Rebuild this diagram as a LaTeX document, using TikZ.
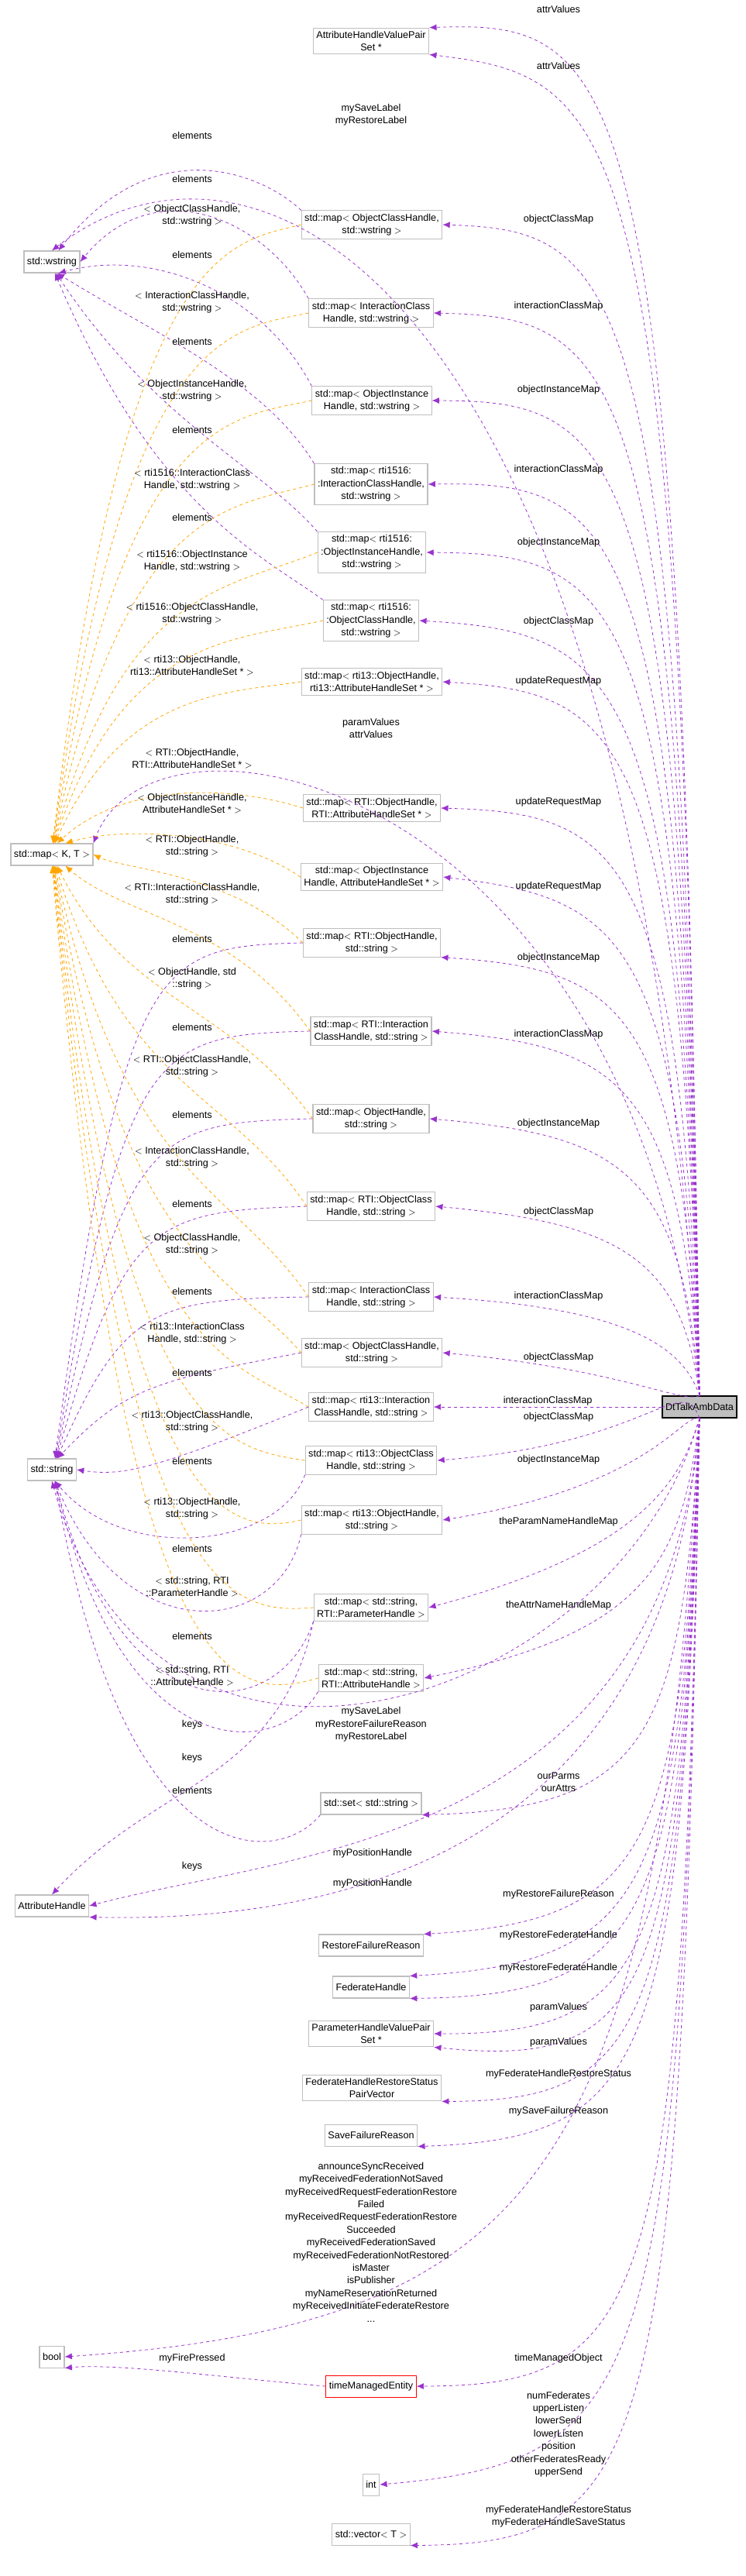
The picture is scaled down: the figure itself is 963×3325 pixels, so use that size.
\documentclass[tikz,border=0pt]{standalone}
\usepackage{fontspec}
\setmainfont{Liberation Sans}
\usetikzlibrary{arrows.meta}
\definecolor{mem}{HTML}{9A32CD}
\definecolor{tpl}{HTML}{FFA500}
\definecolor{frame}{HTML}{BFBFBF}
\tikzset{
  box/.style={draw=frame, line width=0.8pt, align=center, inner sep=3pt, minimum height=21pt, font=\fontsize{9.5}{12.3}\selectfont},
  lbl/.style={align=center, inner sep=0pt, font=\fontsize{9.5}{12.3}\selectfont},
  memb/.style={draw=mem, dashed, line width=0.6pt, -{Latex[length=7pt,width=6pt]}},
  tmpl/.style={draw=tpl, dashed, line width=0.6pt, -{Latex[length=7pt,width=6pt]}}
}
\begin{document}
\begin{tikzpicture}[x=0.75pt, y=-0.75pt]
\useasboundingbox (0,0) rectangle (963,3325);
% left column
\node[box] (wstr) at (67,338) {std::wstring};
\node[box] (mapkt) at (67,1103) {std::map$<$ K, T $>$};
\node[box] (str) at (67,1897) {std::string};
\node[box] (ah) at (67,2460) {AttributeHandle};
\node[box] (bool) at (67,3042) {bool};
% middle column
\node[box] (ahvp) at (479,53) {AttributeHandleValuePair\\Set *};
\node[box] (ochw) at (480,290) {std::map$<$ ObjectClassHandle,\\std::wstring $>$};
\node[box] (ichw) at (479,404) {std::map$<$ InteractionClass\\Handle, std::wstring $>$};
\node[box] (oihw) at (480,517) {std::map$<$ ObjectInstance\\Handle, std::wstring $>$};
\node[box] (rIch) at (479,625) {std::map$<$ rti1516:\\:InteractionClassHandle,\\std::wstring $>$};
\node[box] (rOih) at (480,713) {std::map$<$ rti1516:\\:ObjectInstanceHandle,\\std::wstring $>$};
\node[box] (rOch) at (479,801) {std::map$<$ rti1516:\\:ObjectClassHandle,\\std::wstring $>$};
\node[box] (tOhas) at (480,880) {std::map$<$ rti13::ObjectHandle,\\rti13::AttributeHandleSet * $>$};
\node[box] (Ohas) at (480,1043) {std::map$<$ RTI::ObjectHandle,\\RTI::AttributeHandleSet * $>$};
\node[box] (oihas) at (480,1132) {std::map$<$ ObjectInstance\\Handle, AttributeHandleSet * $>$};
\node[box] (Ohstr) at (480,1217) {std::map$<$ RTI::ObjectHandle,\\std::string $>$};
\node[box] (Ichstr) at (479,1331) {std::map$<$ RTI::Interaction\\ClassHandle, std::string $>$};
\node[box] (ohstr) at (479,1444) {std::map$<$ ObjectHandle,\\std::string $>$};
\node[box] (Ochstr) at (479,1557) {std::map$<$ RTI::ObjectClass\\Handle, std::string $>$};
\node[box] (ichstr) at (479,1674) {std::map$<$ InteractionClass\\Handle, std::string $>$};
\node[box] (ochstr) at (480,1746) {std::map$<$ ObjectClassHandle,\\std::string $>$};
\node[box] (tIch) at (479,1816) {std::map$<$ rti13::Interaction\\ClassHandle, std::string $>$};
\node[box] (tOch) at (479,1885) {std::map$<$ rti13::ObjectClass\\Handle, std::string $>$};
\node[box] (tOh) at (480,1962) {std::map$<$ rti13::ObjectHandle,\\std::string $>$};
\node[box] (sPar) at (479,2075) {std::map$<$ std::string,\\RTI::ParameterHandle $>$};
\node[box] (sAtt) at (479,2166) {std::map$<$ std::string,\\RTI::AttributeHandle $>$};
\node[box] (sset) at (479,2328) {std::set$<$ std::string $>$};
\node[box] (rfr) at (479,2511) {RestoreFailureReason};
\node[box] (fh) at (479,2565) {FederateHandle};
\node[box] (phvp) at (479,2625) {ParameterHandleValuePair\\Set *};
\node[box] (fhrs) at (480,2695) {FederateHandleRestoreStatus\\PairVector};
\node[box] (sfr) at (479,2756) {SaveFailureReason};
\node[box, draw=red] (tme) at (479,3080) {timeManagedEntity};
\node[box] (int) at (479,3207) {int};
\node[box] (vec) at (479,3271) {std::vector$<$ T $>$};
% main class
\node[box, draw=black, fill=frame] (dt) at (903,1816) {DtTalkAmbData};

% members of DtTalkAmbData, upwards
\foreach \t/\a/\l/\ly in {
  ahvp/north east/attrValues/12, ahvp/south east/attrValues/85,
  ochw/east/objectClassMap/283, ichw/east/interactionClassMap/395,
  oihw/east/objectInstanceMap/503, rIch/east/interactionClassMap/606,
  rOih/east/objectInstanceMap/700, rOch/east/objectClassMap/802,
  tOhas/east/updateRequestMap/879, Ohas/east/updateRequestMap/1035,
  oihas/east/updateRequestMap/1144, Ohstr/south east/objectInstanceMap/1236,
  Ichstr/east/interactionClassMap/1335, ohstr/east/objectInstanceMap/1450,
  Ochstr/east/objectClassMap/1564, ichstr/east/interactionClassMap/1673,
  ochstr/east/objectClassMap/1752}
{
  \draw[memb] (dt.north) .. controls (880,\ly+60) and (800,\ly+15) .. (\t.\a);
  \node[lbl] at (721,\ly) {\l};
}
\draw[memb] (dt.west) -- (tIch.east) node[lbl, midway, above=1pt] {interactionClassMap};
% members of DtTalkAmbData, downwards
\foreach \t/\a/\l/\ly in {
  tOch/east/objectClassMap/1829, tOh/east/objectInstanceMap/1884,
  sPar/east/theParamNameHandleMap/1964, sAtt/east/theAttrNameHandleMap/2072,
  sset/south east/{ourParms\\ourAttrs}/2300,
  rfr/north east/myRestoreFailureReason/2445,
  fh/north east/myRestoreFederateHandle/2498, fh/south east/myRestoreFederateHandle/2540,
  phvp/east/paramValues/2591, phvp/south east/paramValues/2636,
  fhrs/south east/myFederateHandleRestoreStatus/2677,
  sfr/south east/mySaveFailureReason/2725,
  tme/east/timeManagedObject/3044,
  int/east/{numFederates\\upperListen\\lowerSend\\lowerListen\\position\\otherFederatesReady\\upperSend}/3142,
  vec/south east/{myFederateHandleRestoreStatus\\myFederateHandleSaveStatus}/3248}
{
  \draw[memb] (dt.south) .. controls (880,\ly-60) and (840,\ly+35) .. (\t.\a);
  \node[lbl] at (721,\ly) {\l};
}
% members going to the left column
\draw[memb] (dt.north) .. controls (820,350) and (330,120) .. (wstr.north);
\node[lbl] (lsave) at (479,148) {mySaveLabel\\myRestoreLabel};
\draw[memb] (dt.north) .. controls (820,1000) and (200,880) .. (mapkt.north east);
\node[lbl] (lparam) at (479,940) {paramValues\\attrValues};
\draw[memb] (dt.south) .. controls (800,2200) and (200,2400) .. (str.south);
\node[lbl] (lrest) at (479,2226) {mySaveLabel\\myRestoreFailureReason\\myRestoreLabel};
\draw[memb] (dt.south) .. controls (860,2380) and (380,2390) .. (ah.east);
\draw[memb] (dt.south) .. controls (860,2430) and (380,2480) .. (ah.south east);
\node[lbl] (lpos1) at (481,2392) {myPositionHandle};
\node[lbl] (lpos2) at (481,2431) {myPositionHandle};
\draw[memb] (dt.south) .. controls (850,2800) and (700,3000) .. (bool.east);
\node[lbl] (lbool) at (479,2894) {announceSyncReceived\\myReceivedFederationNotSaved\\myReceivedRequestFederationRestore\\Failed\\myReceivedRequestFederationRestore\\Succeeded\\myReceivedFederationSaved\\myReceivedFederationNotRestored\\isMaster\\isPublisher\\myNameReservationReturned\\myReceivedInitiateFederateRestore\\...};
\draw[memb] (tme.west) .. controls (300,3070) and (150,3050) .. (bool.south east);
\node[lbl] (lfire) at (248,3044) {myFirePressed};

% element types
\foreach \s/\a/\ly in {ochw/60/175, ichw/0/231, oihw/-60/329, rIch/-65/441, rOih/-70/555, rOch/-75/668}
{
  \draw[memb] (\s.north west) .. controls (340,\ly+50) and (200,\ly-10) .. (wstr.\a);
  \node[lbl] at (248,\ly) {elements};
}
\foreach \s/\a/\ly in {Ohstr/75/1212, Ichstr/72/1326, ohstr/70/1439, Ochstr/68/1554, ichstr/66/1667, ochstr/64/1772, tIch/0/1886}
  \draw[memb] (\s.west) .. controls (200,\ly+10) and (160,\ly+20) .. (str.\a);
\foreach \s/\ly in {tOch/1999, tOh/2112, sPar/2226, sAtt/2269, sset/2409}
  \draw[memb] (\s.south west) .. controls (360,\ly) and (160,\ly+20) .. (str.-75);
\draw[memb] (sPar.south west) .. controls (360,2300) and (200,2300) .. (ah.north);
\foreach \l/\ly in {elements/1212, elements/1326, elements/1439, elements/1554, elements/1667,
  elements/1772, elements/1886, elements/1999, elements/2112, keys/2226, keys/2269,
  elements/2311, keys/2409}
  \node[lbl] at (248,\ly) {\l};

% template instances
\foreach \s/\a/\l/\ly in {
  ochw/86/{$<$ ObjectClassHandle,\\std::wstring $>$}/278,
  ichw/85/{$<$ InteractionClassHandle,\\std::wstring $>$}/390,
  oihw/84/{$<$ ObjectInstanceHandle,\\std::wstring $>$}/504,
  rIch/83/{$<$ rti1516::InteractionClass\\Handle, std::wstring $>$}/619,
  rOih/82/{$<$ rti1516::ObjectInstance\\Handle, std::wstring $>$}/724,
  rOch/80/{$<$ rti1516::ObjectClassHandle,\\std::wstring $>$}/792,
  tOhas/75/{$<$ rti13::ObjectHandle,\\rti13::AttributeHandleSet * $>$}/859,
  Ohas/65/{$<$ RTI::ObjectHandle,\\RTI::AttributeHandleSet * $>$}/979,
  oihas/40/{$<$ ObjectInstanceHandle,\\AttributeHandleSet * $>$}/1037,
  Ohstr/0/{$<$ RTI::ObjectHandle,\\std::string $>$}/1092,
  Ichstr/-40/{$<$ RTI::InteractionClassHandle,\\std::string $>$}/1154,
  ohstr/-65/{$<$ ObjectHandle, std\\::string $>$}/1263,
  Ochstr/-72/{$<$ RTI::ObjectClassHandle,\\std::string $>$}/1376,
  ichstr/-76/{$<$ InteractionClassHandle,\\std::string $>$}/1494,
  ochstr/-79/{$<$ ObjectClassHandle,\\std::string $>$}/1606,
  tIch/-81/{$<$ rti13::InteractionClass\\Handle, std::string $>$}/1721,
  tOch/-83/{$<$ rti13::ObjectClassHandle,\\std::string $>$}/1835,
  tOh/-85/{$<$ rti13::ObjectHandle,\\std::string $>$}/1947,
  sPar/-87/{$<$ std::string, RTI\\::ParameterHandle $>$}/2048,
  sAtt/-89/{$<$ std::string, RTI\\::AttributeHandle $>$}/2163}
{
  \draw[tmpl] (\s.west) .. controls (300,\ly+35) and (160,\ly+30) .. (mapkt.\a);
  \node[lbl] at (248,\ly) {\l};
}
\end{tikzpicture}
\end{document}
